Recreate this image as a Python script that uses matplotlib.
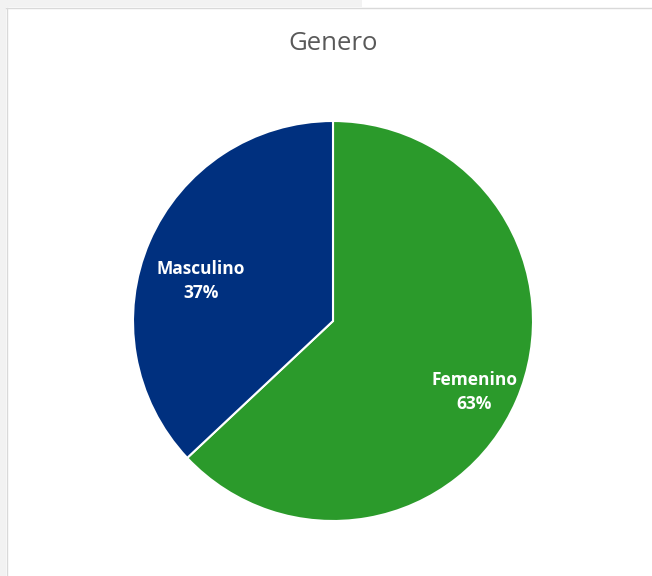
import matplotlib.pyplot as plt
import matplotlib.patches as mpatches
import numpy as np

categorias = ['Femenino', 'Masculino']
valores = [63, 37]
colores = ['#2b9a2b', '#00307f']

fig = plt.figure(figsize=(6.52, 5.76), dpi=100)
fig.patch.set_facecolor('white')

# franja gris de la captura (arriba e izquierda)
fig.patches.append(mpatches.Rectangle((0, 0), 6 / 652, 1, transform=fig.transFigure,
                                      facecolor='#f2f2f2', edgecolor='none'))
fig.patches.append(mpatches.Rectangle((0, 1 - 7 / 576), 362 / 652, 7 / 576, transform=fig.transFigure,
                                      facecolor='#f2f2f2', edgecolor='none'))
fig.add_artist(plt.Line2D([6 / 652, 1], [1 - 7.5 / 576] * 2, transform=fig.transFigure,
                          color='#d9d9d9', lw=1))
fig.add_artist(plt.Line2D([6.5 / 652] * 2, [0, 1 - 7.5 / 576], transform=fig.transFigure,
                          color='#d9d9d9', lw=1))

cx, cy, r = 333 / 652, (576 - 321) / 576, 200
ax = fig.add_axes([cx - r / 652, cy - r / 576, 2 * r / 652, 2 * r / 576])

wedges, _ = ax.pie(valores, colors=colores, startangle=90, counterclock=False,
                   wedgeprops=dict(edgecolor='white', linewidth=1.5))
ax.set_xlim(-1, 1)
ax.set_ylim(-1, 1)
ax.set_aspect('equal')
ax.axis('off')

# posicion de etiquetas (distancia, ajuste vertical) como en excel
for w, cat, v, d, dy in zip(wedges, categorias, valores, [0.77, 0.72], [-0.05, -0.085]):
    ang = np.deg2rad((w.theta1 + w.theta2) / 2)
    ax.text(d * np.cos(ang), d * np.sin(ang) + dy,
            f'{cat}\n{v}%', ha='center', va='center', color='white',
            fontsize=12.5, fontweight='bold', family='Open Sans', linespacing=1.45)

fig.text(cx, 1 - 44 / 576, 'Genero', ha='center', va='center', color='#595959',
         fontsize=18.5, family='Open Sans')

fig.savefig('out.png', dpi=100)
